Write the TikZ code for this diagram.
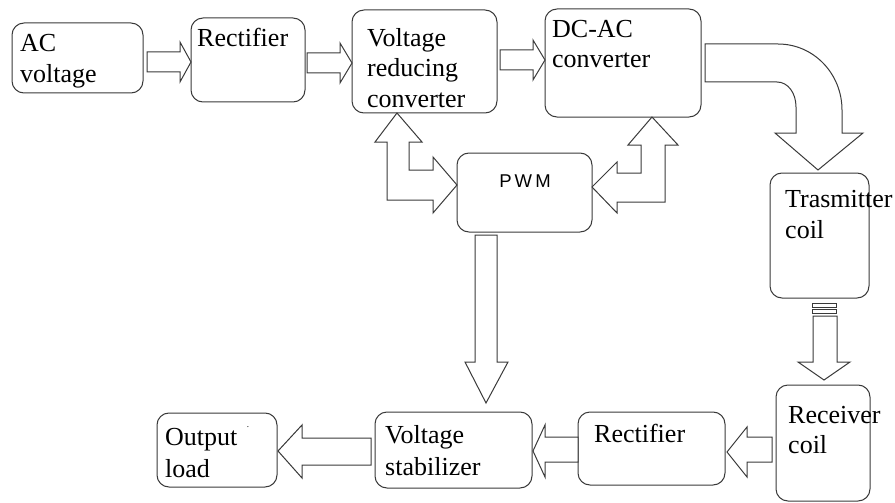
\documentclass[tikz,border=0pt]{standalone}
\usepackage{fontspec}
\setmainfont{Liberation Serif}
\newfontfamily\pwmfont{Liberation Sans}
\definecolor{linec}{HTML}{3A3A3A}
\begin{document}
\begin{tikzpicture}[x=1pt,y=-1pt,
  box/.style={draw=linec, line width=1pt, rounded corners=12pt, inner sep=0pt, fill=white},
  txt/.style={anchor=base west, inner sep=0pt, font=\fontsize{26}{30}\selectfont},
  arr/.style={draw=linec, line width=1pt, fill=white, line join=miter}]
\useasboundingbox (0,0) rectangle (895,503);
% boxes
\node[box, minimum width=131pt, minimum height=70pt] (ac) at (77.5,58) {};
\node[box, minimum width=114pt, minimum height=84pt] (rect1) at (248,60) {};
\node[box, minimum width=145pt, minimum height=103pt] (vrc) at (424.5,61.5) {};
\node[box, minimum width=156pt, minimum height=108pt] (dcac) at (623,63) {};
\node[box, minimum width=135pt, minimum height=79pt] (pwm) at (524.5,192.5) {};
\node[box, minimum width=99pt, minimum height=125pt] (tx) at (819.5,235.5) {};
\node[box, minimum width=94pt, minimum height=116pt] (rx) at (823,443) {};
\node[box, minimum width=147pt, minimum height=73pt] (rect2) at (651.5,448.5) {};
\node[box, minimum width=157pt, minimum height=76pt] (stab) at (453.5,450) {};
\node[box, minimum width=120pt, minimum height=74pt] (out) at (217,450) {};
% texts
\node[txt] (t1a) at (20,52) {AC};
\node[txt] (t1b) at (20,82) {voltage};
\node[txt] (t2) at (197,47) {Rectifier};
\node[txt] (t3a) at (367,47) {Voltage};
\node[txt] (t3b) at (367,77) {reducing};
\node[txt] (t3c) at (367,107) {converter};
\node[txt] (t4a) at (552,38) {DC-AC};
\node[txt] (t4b) at (552,68) {converter};
\node[anchor=base, inner sep=0pt, font=\pwmfont\fontsize{18.5}{22}\selectfont] (t5) at (525,187) {P\,W\,M};
\node[txt] (t6a) at (785,207) {Trasmitter};
\node[txt] (t6b) at (785,238) {coil};
\node[txt] (t7a) at (788,423) {Receiver};
\node[txt] (t7b) at (788,453) {coil};
\node[txt] (t8) at (594,442) {Rectifier};
\node[txt] (t9a) at (385,443) {Voltage};
\node[txt] (t9b) at (385,475) {stabilizer};
\node[txt] (t10a) at (165,445) {Output};
\node[txt] (t10b) at (165,477) {load};
\node[inner sep=0pt, font=\fontsize{9}{9}\selectfont] (dot) at (248,427) {.};
% block arrows
\draw[arr] (147,52) -- (180,52) -- (180,42) -- (191,62) -- (180,82) -- (180,72) -- (147,72) -- cycle;
\draw[arr] (307,53) -- (340,53) -- (340,43) -- (352,63) -- (340,83) -- (340,73) -- (307,73) -- cycle;
\draw[arr] (500,50) -- (533,50) -- (533,40) -- (545,60) -- (533,80) -- (533,70) -- (500,70) -- cycle;
\draw[arr] (705,44) -- (778,44) .. controls (814,44) and (842,74) .. (842,110) -- (842,133) -- (863,133) -- (818,170) -- (775,133) -- (796,133) -- (796,107) .. controls (796,93) and (788,82) .. (777,82) -- (705,82) -- cycle;
\draw[arr] (397,113) -- (422,142) -- (409,142) -- (409,170) -- (433,170) -- (433,157) -- (457,185) -- (433,213) -- (433,200) -- (387,200) -- (387,142) -- (375,142) -- cycle;
\draw[arr] (652,117) -- (678,145) -- (665,145) -- (665,202) -- (617,202) -- (617,213) -- (592,187) -- (617,162) -- (617,173) -- (641,173) -- (641,145) -- (628,145) -- cycle;
\draw[arr] (475,235) -- (497,235) -- (497,362) -- (508,362) -- (486,403) -- (465,362) -- (475,362) -- cycle;
\draw[arr] (812,303) rectangle (836,307);
\draw[arr] (812,309) rectangle (836,313);
\draw[arr] (813,316) -- (837,316) -- (837,362) -- (850,362) -- (824,380) -- (798,362) -- (813,362) -- cycle;
\draw[arr] (772,437) -- (747,437) -- (747,427) -- (727,452) -- (747,477) -- (747,462) -- (772,462) -- cycle;
\draw[arr] (578,437) -- (545,437) -- (545,425) -- (533,451) -- (545,477) -- (545,462) -- (578,462) -- cycle;
\draw[arr] (371,438) -- (302,438) -- (302,425) -- (278,451) -- (302,478) -- (302,465) -- (371,465) -- cycle;
\end{tikzpicture}
\end{document}
